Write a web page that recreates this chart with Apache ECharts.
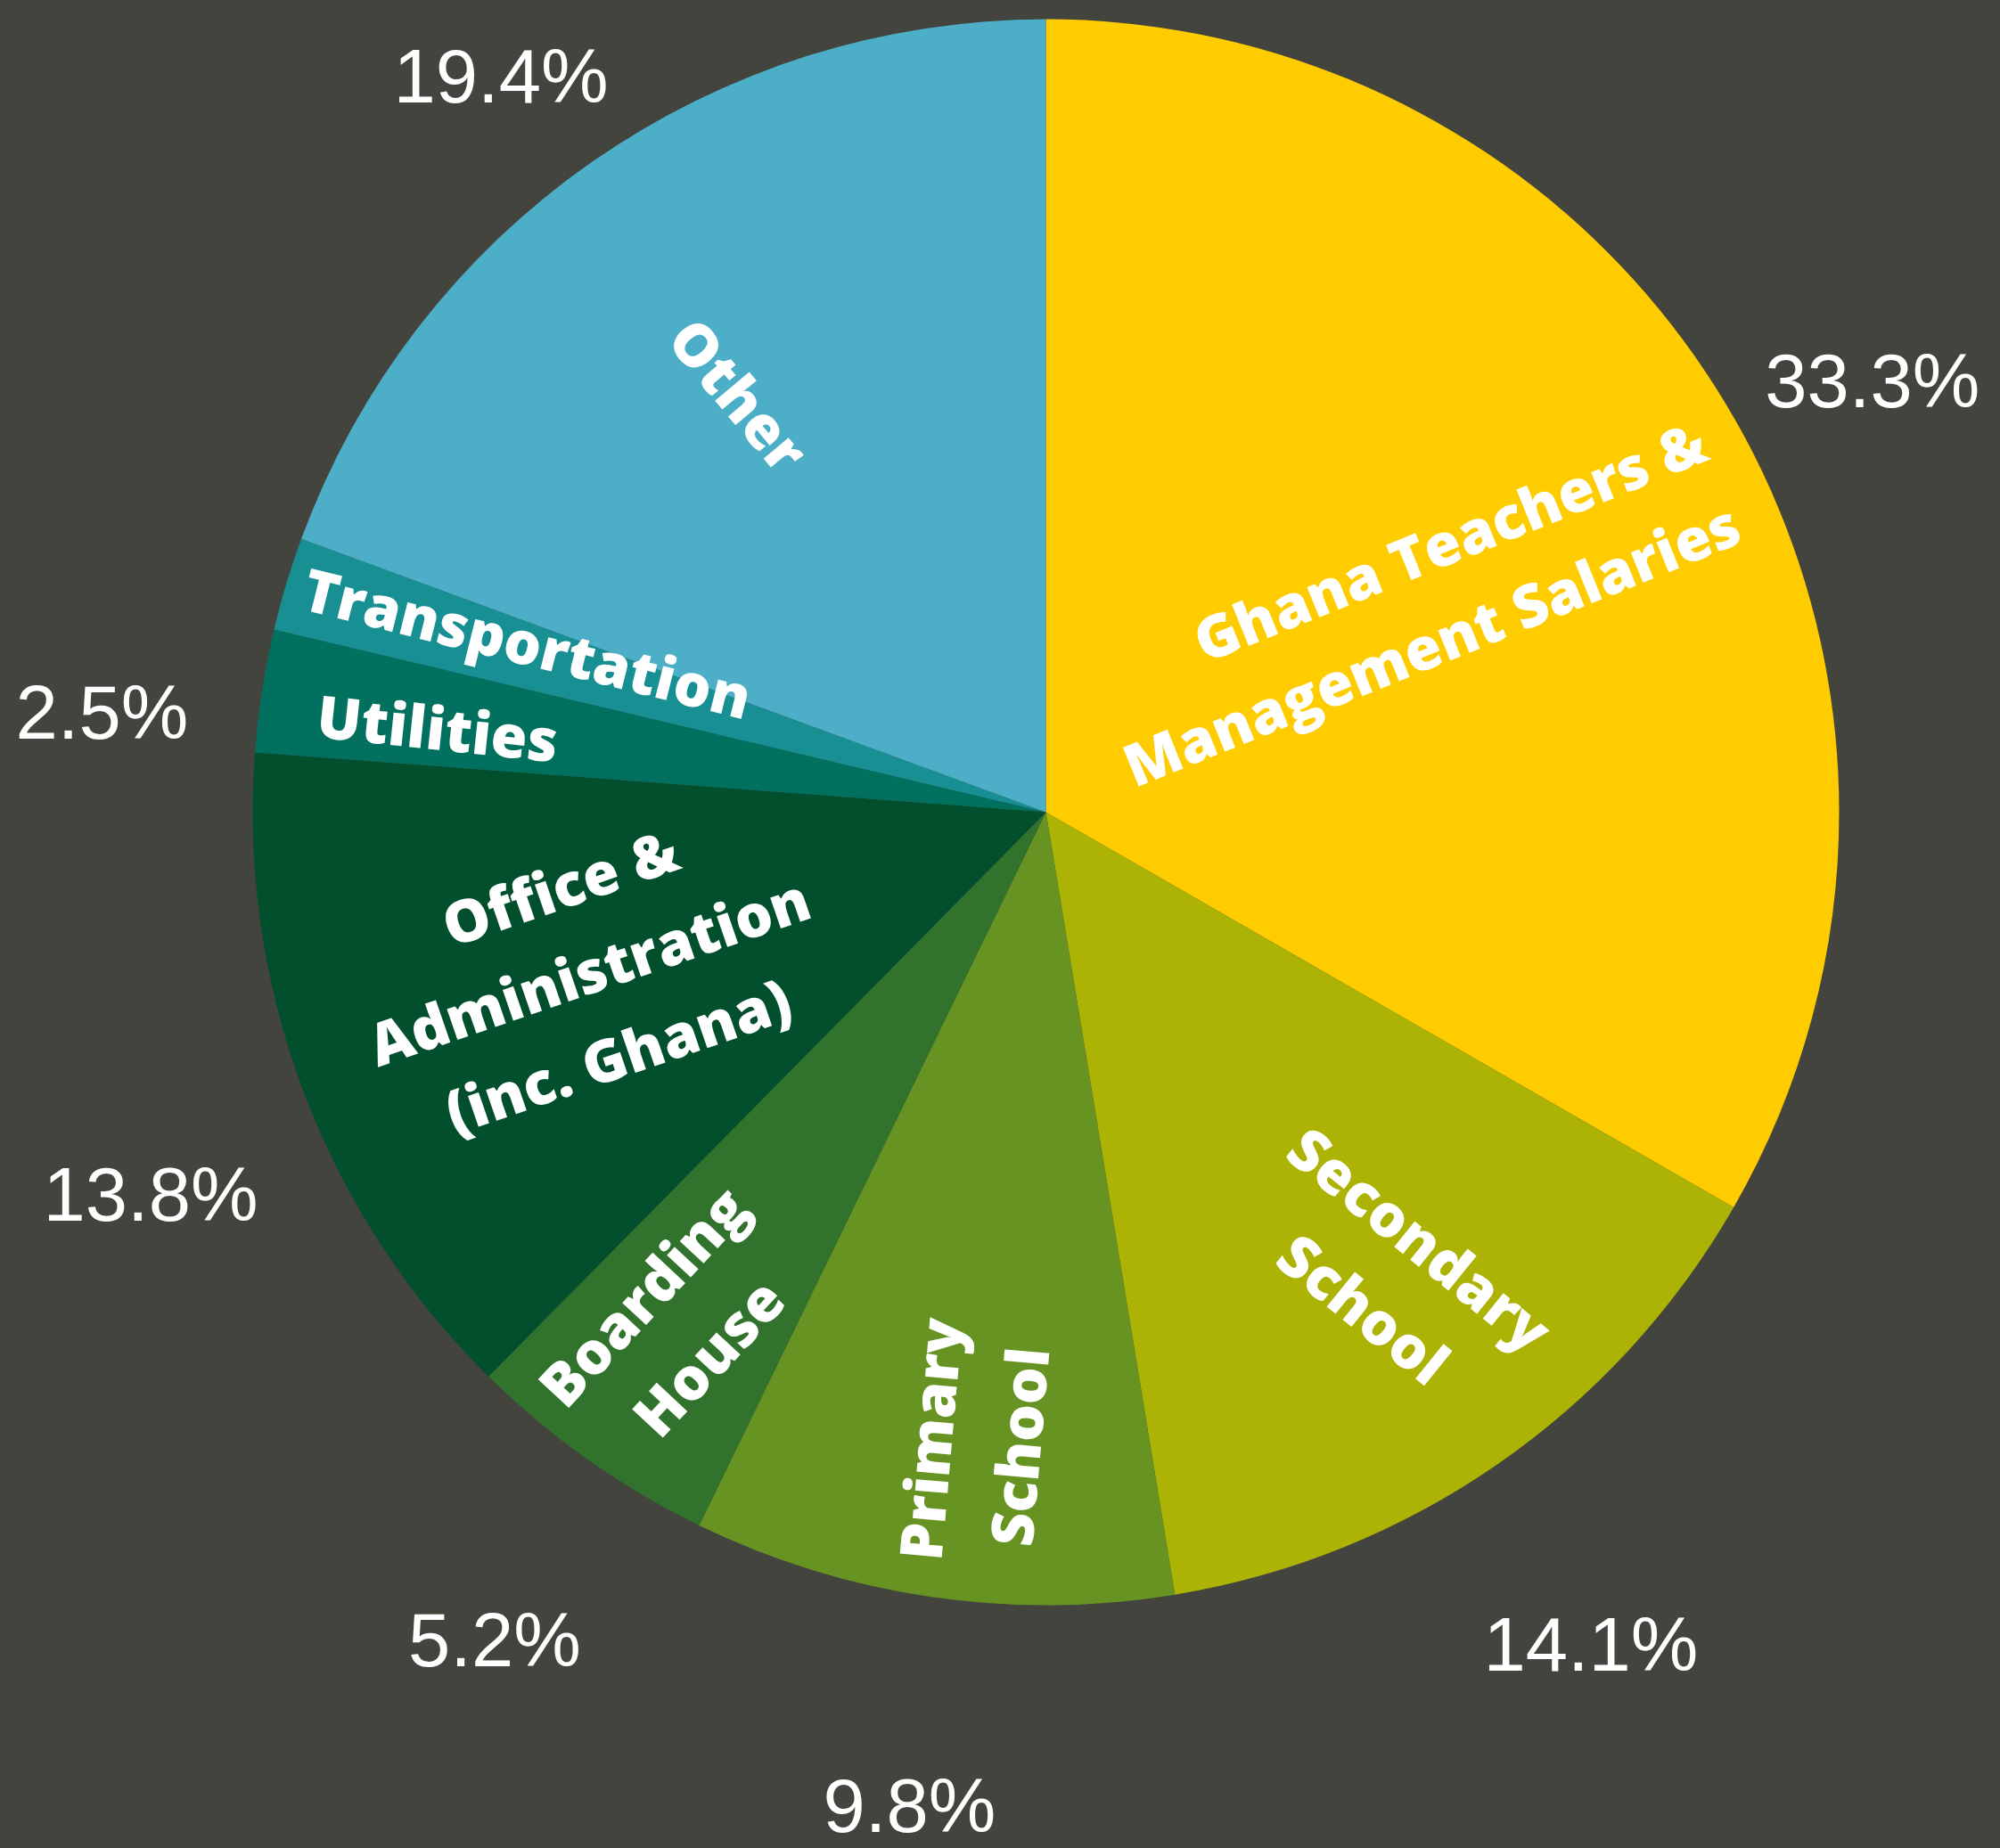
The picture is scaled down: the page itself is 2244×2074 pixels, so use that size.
<!DOCTYPE html>
<html>
<head>
<meta charset="utf-8">
<script src="https://cdn.jsdelivr.net/npm/echarts@6/dist/echarts.min.js"></script>
<style>
html,body{margin:0;padding:0;background:#44443f;}
#c{width:2244px;height:2074px;}
</style>
</head>
<body>
<div id="c"></div>
<script>
// ---- data ----
var categories = ['Ghana Teachers &\nManagement Salaries', 'Secondary\nSchool', 'Primary\nSchool', 'Boarding\nHouse', 'Office &\nAdministration\n(inc. Ghana)', 'Utilities', 'Transportation', 'Other'];
var values = [33.3, 14.1, 9.8, 5.2, 13.8, 2.5, 1.9, 19.4];
var showPct = [true, true, true, true, true, true, false, true];
var colors = ['#FFCC00', '#ADB305', '#679322', '#31732D', '#024F2D', '#02705E', '#188F93', '#4CAFC7'];

// ---- label placement (style) ----
var CX = 1173.5, CY = 911.6, R = 890;
var nameDist   = [0.947, 0.729, 0.80, 0.80, 0.61, 0.774, 0.687, 0.653];
var nameShift  = [4.2, -1.6, -2.3, 0, 0.7, -1.4, 0.8, -2.0];
var nameRotate = [22, -39, 85, 47, 19, -6, -14, -50];
var nameAlign  = ['right', 'center', 'center', 'center', 'center', 'center', 'center', 'center'];
var pctDist    = [1.172, 1.260, 1.271, 1.260, 1.230, 1.196, 1.2, 1.149];
var pctShift   = [2.8, 1.7, -0.5, -1.8, -2.9, -3.1, 0, -1.8];

var total = values.reduce(function (a, b) { return a + b; }, 0);
var mids = [];
(function () {
  var cum = 0;
  for (var i = 0; i < values.length; i++) {
    mids.push((cum + values[i] / 2) / total * 360);
    cum += values[i];
  }
})();

function polar(i, dist, shift) {
  var a = (mids[i] + shift[i]) * Math.PI / 180;
  var d = dist[i] * R;
  return [CX + d * Math.sin(a), CY - d * Math.cos(a)];
}

var chart = echarts.init(document.getElementById('c'), null, { renderer: 'canvas' });

chart.setOption({
  backgroundColor: '#44443f',
  animation: false,
  series: [
    {
      type: 'pie',
      center: [CX, CY],
      radius: R,
      startAngle: 90,
      clockwise: true,
      silent: true,
      itemStyle: { borderWidth: 0 },
      data: categories.map(function (n, i) {
        return { name: n, value: values[i], itemStyle: { color: colors[i] } };
      }),
      label: {
        show: true,
        position: 'inside',
        formatter: '{b}',
        color: '#ffffff',
        fontFamily: 'Open Sans',
        fontWeight: 800,
        fontSize: 66,
        lineHeight: 100
      },
      labelLine: { show: false },
      labelLayout: function (p) {
        var i = p.dataIndex;
        var pt = polar(i, nameDist, nameShift);
        return { x: pt[0], y: pt[1], align: nameAlign[i], verticalAlign: 'middle', rotate: nameRotate[i] };
      },
      emphasis: { disabled: true }
    },
    {
      type: 'pie',
      center: [CX, CY],
      radius: R,
      startAngle: 90,
      clockwise: true,
      silent: true,
      itemStyle: { color: 'rgba(0,0,0,0)', borderWidth: 0 },
      data: categories.map(function (n, i) {
        return { name: n, value: values[i], label: { show: showPct[i] } };
      }),
      label: {
        show: true,
        position: 'inside',
        formatter: function (p) { return p.value.toFixed(1) + '%'; },
        color: '#ffffff',
        fontFamily: 'Liberation Sans',
        fontWeight: 'normal',
        fontSize: 85
      },
      labelLine: { show: false },
      labelLayout: function (p) {
        var i = p.dataIndex;
        var pt = polar(i, pctDist, pctShift);
        return { x: pt[0], y: pt[1], align: 'center', verticalAlign: 'middle', rotate: 0 };
      },
      emphasis: { disabled: true }
    }
  ]
});
</script>
</body>
</html>
